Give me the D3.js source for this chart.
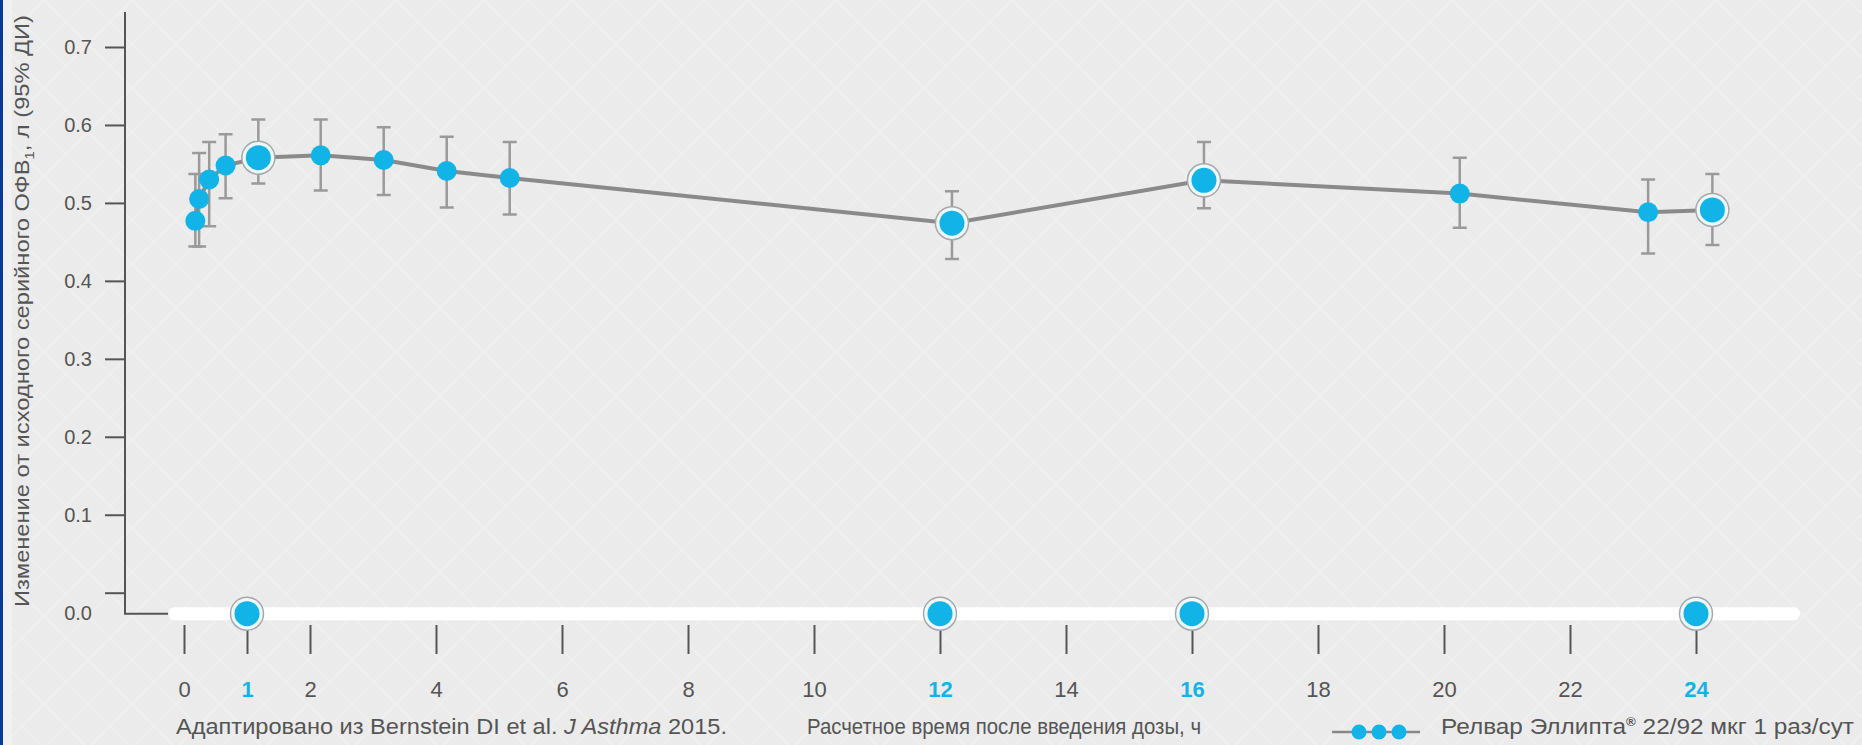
<!DOCTYPE html>
<html><head><meta charset="utf-8">
<script src="https://cdn.jsdelivr.net/npm/d3@7"></script>
<style>
html,body{margin:0;padding:0;background:#ebebeb;overflow:hidden}
svg{display:block;font-family:"Liberation Sans",Arial,sans-serif}
</style></head>
<body>
<svg id="chart" width="1862" height="745"></svg>
<script>
// ---- data ----
const hours   = [0.18, 0.24, 0.40, 0.66, 1.18, 2.17, 3.17, 4.17, 5.17, 12.19, 16.19, 20.25, 23.24, 24.26];
const meanFev = [0.477, 0.505, 0.530, 0.548, 0.558, 0.561, 0.555, 0.541, 0.532, 0.474, 0.529, 0.512, 0.488, 0.491];
const ciLow   = [0.444, 0.444, 0.470, 0.506, 0.525, 0.516, 0.510, 0.494, 0.485, 0.428, 0.493, 0.468, 0.435, 0.446];
const ciHigh  = [0.537, 0.564, 0.578, 0.588, 0.607, 0.607, 0.597, 0.585, 0.578, 0.515, 0.578, 0.558, 0.530, 0.537];
const highlightedIdx = [4, 9, 10, 13];
const markerHours = [1, 12, 16, 24];
const xTickValues = [0, 1, 2, 4, 6, 8, 10, 12, 14, 16, 18, 20, 22, 24];
const yTickValues = [0.0, 0.1, 0.2, 0.3, 0.4, 0.5, 0.6, 0.7];
const yTitle = "Изменение от исходного серийного ОФВ";
const yTitleSub = "1";
const yTitleEnd = ", л (95% ДИ)";
const sourceText = ["Адаптировано из Bernstein DI et al. ", "J Asthma", " 2015."];
const xTitle = "Расчетное время после введения дозы, ч";
const legendText = "Релвар Эллипта";
const legendText2 = " 22/92 мкг 1 раз/сут";

const BLUE = "#12b4e8";
const AXIS = "#555";
const TEXT = "#555";

const svg = d3.select("#chart");

// background
const defs = svg.append("defs");
const pat = defs.append("pattern").attr("id","bgp").attr("width",44).attr("height",44)
  .attr("patternUnits","userSpaceOnUse");
pat.append("rect").attr("width",44).attr("height",44).attr("fill","#ebebeb");
pat.append("path").attr("d","M0,0 L44,44 M44,0 L0,44").attr("stroke","#efefef").attr("stroke-width",2);
svg.append("rect").attr("width",1862).attr("height",745).attr("fill","url(#bgp)");
svg.append("rect").attr("x",3).attr("width",9).attr("height",745).attr("fill","#f1f1f1");
svg.append("rect").attr("width",3).attr("height",745).attr("fill","#0d3a98");

// scales
const x = d3.scaleLinear().domain([0, 24]).range([184, 1696]);
const y = d3.scaleLinear().domain([0, 0.7]).range([592.7, 47]);
const baseY = y(0) + 21;

// y axis
const yAxisG = svg.append("g").attr("transform","translate(125,0)")
  .call(d3.axisLeft(y).tickValues(yTickValues).tickSize(20).tickPadding(13)
        .tickFormat(d3.format(".1f")));
yAxisG.select(".domain").remove();
yAxisG.selectAll(".tick line").attr("stroke",AXIS).attr("stroke-width",2);
yAxisG.selectAll(".tick text").attr("fill",TEXT).attr("font-size",20)
  .attr("font-family","'Liberation Sans',Arial,sans-serif")
  .attr("dy", d => d === 0 ? "1.35em" : "0.32em");
svg.append("path").attr("d", `M125,12 L125,${baseY} L170,${baseY}`)
  .attr("fill","none").attr("stroke",AXIS).attr("stroke-width",2);

// white time bar
svg.append("line").attr("x1", x(-0.15)).attr("x2", x(25.55)).attr("y1", baseY).attr("y2", baseY)
  .attr("stroke","#ffffff").attr("stroke-width",13).attr("stroke-linecap","round");

// x axis
const xAxisG = svg.append("g").attr("transform","translate(0,625)")
  .call(d3.axisBottom(x).tickValues(xTickValues).tickSize(29).tickPadding(27).tickFormat(d3.format("d")));
xAxisG.select(".domain").remove();
xAxisG.selectAll(".tick line").attr("stroke",AXIS).attr("stroke-width",2);
xAxisG.selectAll(".tick text")
  .attr("font-size",22).attr("font-family","'Liberation Sans',Arial,sans-serif")
  .attr("fill", d => markerHours.includes(d) ? BLUE : TEXT)
  .attr("font-weight", d => markerHours.includes(d) ? "bold" : "normal");

// markers on the time bar
const mk = svg.append("g").selectAll("g").data(markerHours).join("g")
  .attr("transform", d => `translate(${x(d)},${baseY})`);
mk.append("circle").attr("r",16.5).attr("fill","#eef9fd").attr("stroke","#a8a8a8").attr("stroke-width",1.5);
mk.append("circle").attr("r",12.5).attr("fill",BLUE);

// data
const pts = hours.map((h,i) => ({h, v: meanFev[i], lo: ciLow[i], hi: ciHigh[i], big: highlightedIdx.includes(i)}));

// error bars
const eb = svg.append("g").attr("stroke","#9a9a9a").attr("stroke-width",2.5).attr("fill","none");
eb.selectAll("path").data(pts).join("path")
  .attr("d", d => `M${x(d.h)},${y(d.hi)} L${x(d.h)},${y(d.lo)} M${x(d.h)-7},${y(d.hi)} L${x(d.h)+7},${y(d.hi)} M${x(d.h)-7},${y(d.lo)} L${x(d.h)+7},${y(d.lo)}`);

// line
svg.append("path").datum(pts)
  .attr("d", d3.line().x(d => x(d.h)).y(d => y(d.v)))
  .attr("fill","none").attr("stroke","#8a8a8a").attr("stroke-width",4);

// points
const pg = svg.append("g").selectAll("g").data(pts).join("g")
  .attr("transform", d => `translate(${x(d.h)},${y(d.v)})`);
pg.filter(d => d.big).append("circle").attr("r",16.5).attr("fill","#eef9fd").attr("stroke","#a8a8a8").attr("stroke-width",1.5);
pg.append("circle").attr("r", d => d.big ? 12.5 : 10).attr("fill",BLUE);

// y title
const yt = svg.append("text").attr("transform","translate(29,311) rotate(-90)")
  .attr("text-anchor","middle").attr("font-size",21).attr("fill",TEXT)
  .attr("textLength",592).attr("lengthAdjust","spacingAndGlyphs");
yt.append("tspan").text(yTitle);
yt.append("tspan").attr("font-size",13).attr("dy",5).text(yTitleSub);
yt.append("tspan").attr("dy",-5).text(yTitleEnd);

// footer
const ft = svg.append("text").attr("x",176).attr("y",734).attr("font-size",22).attr("fill",TEXT)
  .attr("textLength",551).attr("lengthAdjust","spacingAndGlyphs");
ft.append("tspan").text(sourceText[0]);
ft.append("tspan").attr("font-style","italic").text(sourceText[1]);
ft.append("tspan").text(sourceText[2]);
svg.append("text").attr("x",807).attr("y",734).attr("font-size",21.5).attr("fill",TEXT)
  .attr("textLength",394).attr("lengthAdjust","spacingAndGlyphs").text(xTitle);

// legend
const lg = svg.append("g");
lg.append("line").attr("x1",1332).attr("x2",1420).attr("y1",732).attr("y2",732).attr("stroke","#888").attr("stroke-width",2.5);
lg.selectAll("circle").data([1359,1379,1399]).join("circle")
  .attr("cx", d => d).attr("cy",732).attr("r",7.5).attr("fill",BLUE);
const lt = lg.append("text").attr("x",1441).attr("y",734).attr("font-size",22).attr("fill",TEXT)
  .attr("textLength",413).attr("lengthAdjust","spacingAndGlyphs");
lt.append("tspan").text(legendText);
lt.append("tspan").attr("font-size",12).attr("dy",-8).attr("font-weight","bold").text("®");
lt.append("tspan").attr("dy",8).text(legendText2);
</script>
</body></html>
